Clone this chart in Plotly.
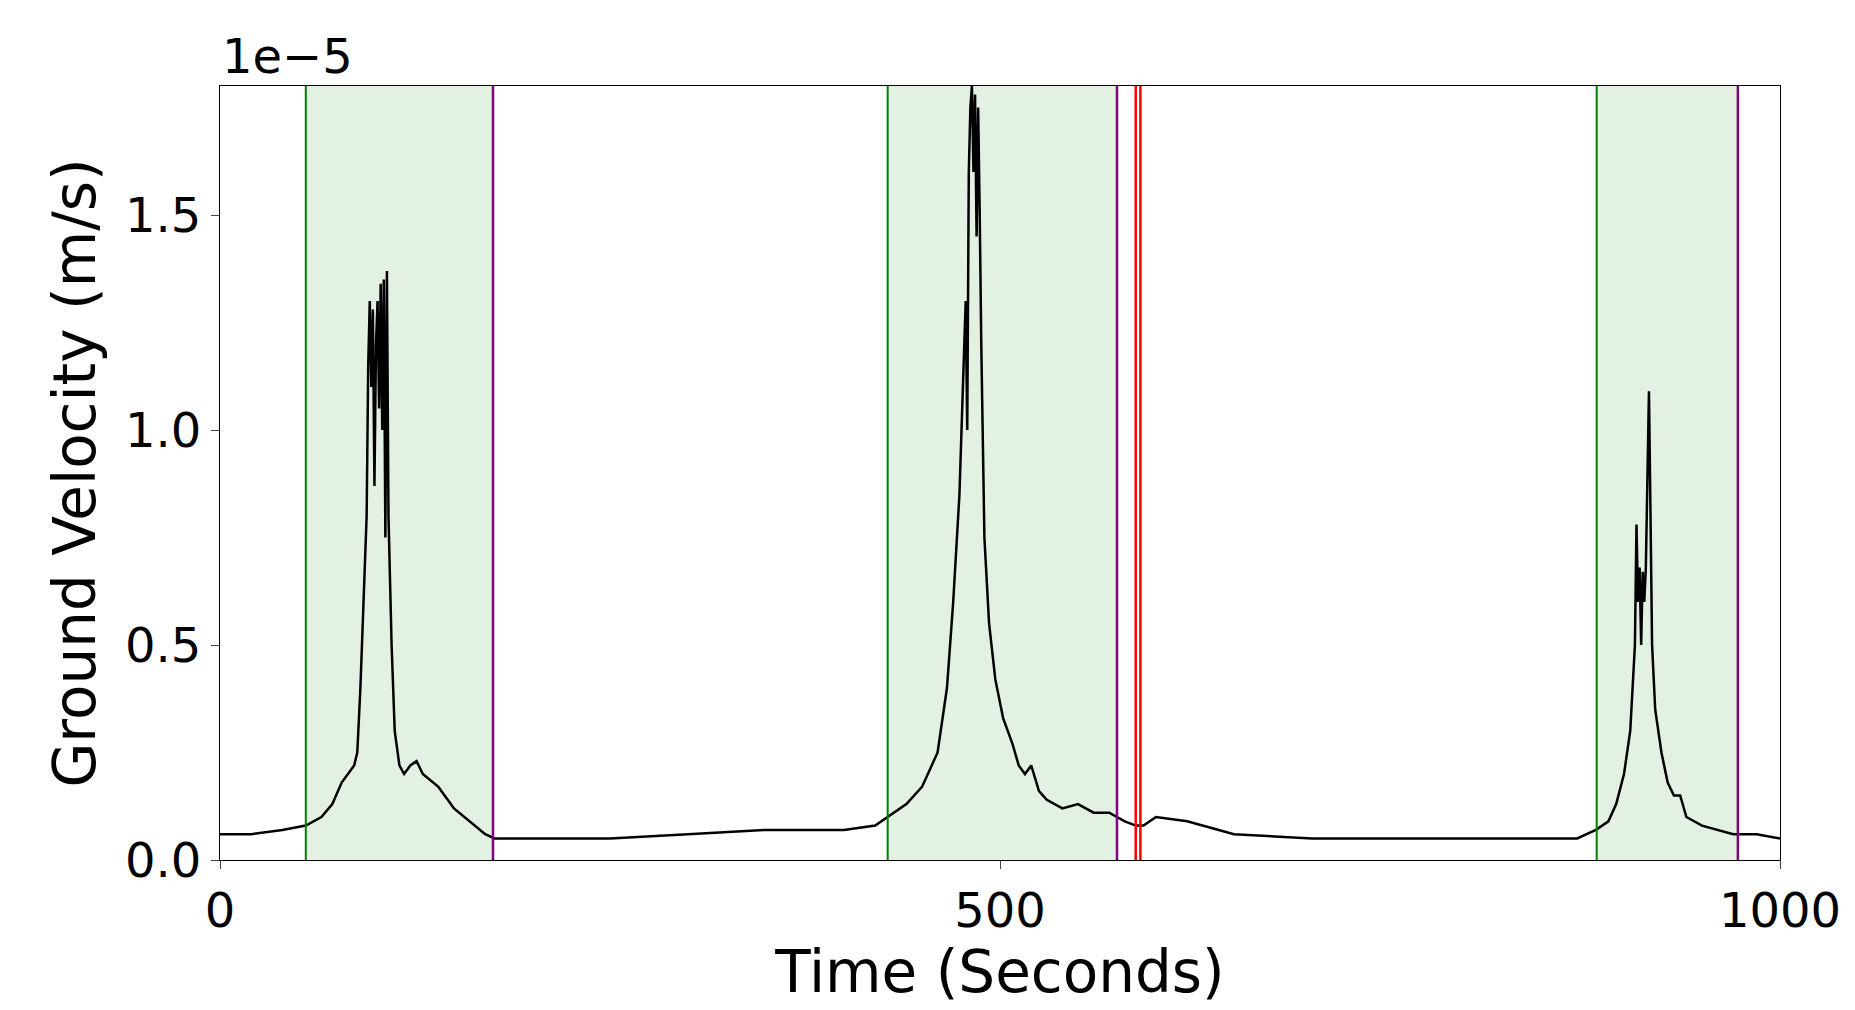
import plotly.graph_objects as go

SCALE = 1e-5
t = [0, 20, 40, 55, 65, 72, 78, 82, 86, 88, 90, 92, 94, 95, 96, 97, 98, 99, 100, 101, 102, 103, 104, 105, 106, 107, 108, 110, 112, 115, 118, 122, 126, 130, 140, 150, 160, 170, 176,
     200, 250, 300, 350, 380, 400, 420, 428, 440, 450, 460, 466, 470, 474, 476, 478, 479, 480, 481, 482, 483, 484, 485, 486, 487, 488, 490, 493, 497, 502, 508, 512, 516, 520, 525, 530, 540, 550, 560, 570, 580, 587, 592, 600, 620, 650, 700, 800,
     870, 882, 890, 895, 900, 904, 907, 908, 909, 910, 911, 912, 913, 914, 915, 916, 917, 918, 920, 924, 928, 932, 936, 940, 950, 960, 970, 985, 1000]
v = [0.06, 0.06, 0.07, 0.08, 0.1, 0.13, 0.18, 0.2, 0.22, 0.25, 0.4, 0.6, 0.8, 1.15, 1.3, 1.1, 1.28, 0.87, 1.2, 1.3, 1.05, 1.34, 1.0, 1.35, 0.75, 1.37, 0.8, 0.5, 0.3, 0.22, 0.2, 0.22, 0.23, 0.2, 0.17, 0.12, 0.09, 0.06, 0.05,
     0.05, 0.05, 0.06, 0.07, 0.07, 0.07, 0.08, 0.1, 0.13, 0.17, 0.25, 0.4, 0.6, 0.85, 1.1, 1.3, 1.0, 1.6, 1.75, 1.8, 1.6, 1.78, 1.45, 1.75, 1.5, 1.2, 0.75, 0.55, 0.42, 0.33, 0.27, 0.22, 0.2, 0.22, 0.16, 0.14, 0.12, 0.13, 0.11, 0.11, 0.09, 0.08, 0.08, 0.1, 0.09, 0.06, 0.05, 0.05, 0.05,
     0.07, 0.09, 0.13, 0.2, 0.3, 0.5, 0.78, 0.6, 0.68, 0.5, 0.67, 0.6, 0.68, 0.85, 1.09, 0.8, 0.5, 0.35, 0.25, 0.18, 0.15, 0.15, 0.1, 0.08, 0.07, 0.06, 0.06, 0.05, 0.05]
starts = [55, 428, 882.5]
ends = [175, 575, 973]
reds = [587, 590]

fig = go.Figure()
fig.add_trace(go.Scatter(x=t, y=[x * SCALE for x in v], mode="lines", line=dict(color="black", width=2.5)))
for s, e in zip(starts, ends):
    fig.add_vrect(x0=s, x1=e, fillcolor="rgba(0,128,0,0.11)", line_width=0, layer="below")
    fig.add_vline(x=s, line=dict(color="green", width=2))
    fig.add_vline(x=e, line=dict(color="purple", width=2.5))
for r in reds:
    fig.add_vline(x=r, line=dict(color="red", width=2.5))

fig.update_layout(
    width=1855, height=1010, plot_bgcolor="white", paper_bgcolor="white",
    margin=dict(l=212, r=83, t=78, b=158), showlegend=False,
    font=dict(family="DejaVu Sans", size=48, color="black"),
    xaxis=dict(range=[0, 1000], tickvals=[0, 500, 1000], showgrid=False, zeroline=False,
               showline=True, mirror=True, linecolor="black", ticks="outside", ticklen=8,
               title=dict(text="Time (Seconds)", standoff=5)),
    yaxis=dict(range=[0, 1.8e-5], tickvals=[0, 0.5e-5, 1e-5, 1.5e-5], ticktext=["0.0", "0.5", "1.0", "1.5"],
               showgrid=False, zeroline=False, showline=True, mirror=True, linecolor="black",
               ticks="outside", ticklen=8, title=dict(text="Ground Velocity (m/s)", standoff=10)),
    annotations=[dict(text="1e\u22125", xref="paper", yref="paper", x=0, y=1, xanchor="left", yanchor="bottom",
                      showarrow=False, font=dict(size=48))],
)
fig.write_html("out.html")
